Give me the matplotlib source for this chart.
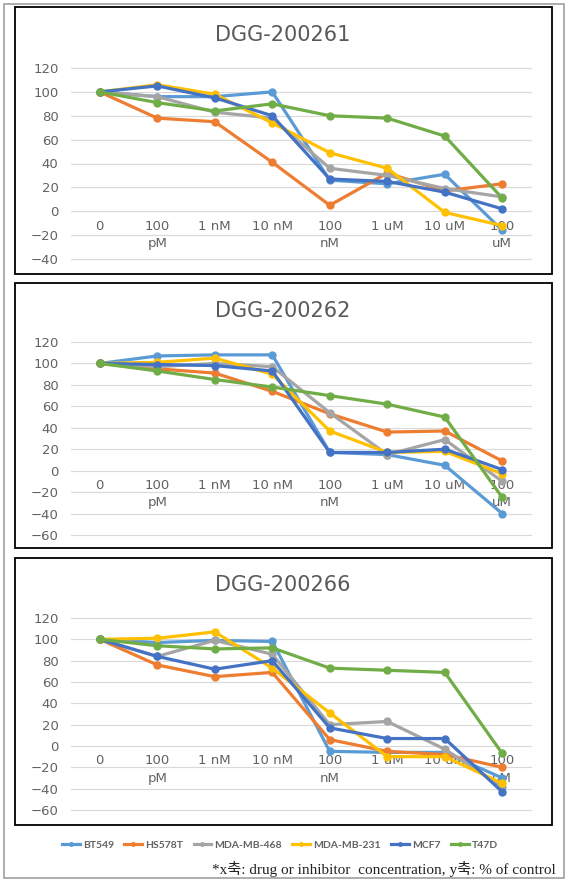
import matplotlib
matplotlib.use("Agg")
import matplotlib.pyplot as plt
from matplotlib.patches import Rectangle

plt.rcParams['font.family'] = ['DejaVu Sans']

concs = ["0", "100\npM", "1 nM", "10 nM", "100\nnM", "1 uM", "10 uM", "100\nuM"]
cell_lines = ["BT549", "HS578T", "MDA-MB-468", "MDA-MB-231", "MCF7", "T47D"]
colors = ["#5B9BD5", "#ED7D31", "#A5A5A5", "#FFC000", "#4472C4", "#70AD47"]

# DGG-200261
d261_bt549  = [100, 96, 96, 100, 26, 23, 31, -16]
d261_hs578t = [100, 78, 75, 41, 5, 32, 17, 23]
d261_mb468  = [100, 96, 83, 78, 36, 30, 19, 12]
d261_mb231  = [100, 106, 98, 74, 49, 36, -1, -12]
d261_mcf7   = [100, 105, 95, 80, 27, 25, 16, 2]
d261_t47d   = [100, 91, 84, 90, 80, 78, 63, 11]

# DGG-200262
d262_bt549  = [100, 107, 108, 108, 17, 15, 5, -40]
d262_hs578t = [100, 95, 91, 74, 53, 36, 37, 9]
d262_mb468  = [100, 97, 100, 97, 54, 15, 29, -10]
d262_mb231  = [100, 101, 105, 90, 37, 17, 18, -3]
d262_mcf7   = [100, 99, 98, 93, 17, 17, 20, 1]
d262_t47d   = [100, 93, 85, 78, 70, 62, 50, -25]

# DGG-200266
d266_bt549  = [100, 97, 99, 98, -5, -6, -6, -30]
d266_hs578t = [100, 76, 65, 69, 6, -5, -8, -20]
d266_mb468  = [100, 84, 99, 86, 20, 23, -3, -38]
d266_mb231  = [100, 101, 107, 73, 31, -10, -10, -35]
d266_mcf7   = [100, 84, 72, 80, 17, 7, 7, -43]
d266_t47d   = [100, 94, 91, 92, 73, 71, 69, -7]

panels = [
    ("DGG-200261", [d261_bt549, d261_hs578t, d261_mb468, d261_mb231, d261_mcf7, d261_t47d], (-40, 120)),
    ("DGG-200262", [d262_bt549, d262_hs578t, d262_mb468, d262_mb231, d262_mcf7, d262_t47d], (-60, 120)),
    ("DGG-200266", [d266_bt549, d266_hs578t, d266_mb468, d266_mb231, d266_mcf7, d266_t47d], (-60, 120)),
]

W, H = 572, 883
fig = plt.figure(figsize=(W / 100, H / 100), dpi=100)

def fx(px):
    return px / W

def fy(py):
    return 1 - py / H

# outer page frame
fig.patches.append(Rectangle((fx(4), fy(878)), fx(560), 874 / H, transform=fig.transFigure,
                             fill=False, edgecolor="#A0A0A0", linewidth=1.2))

# pixel layout: (box top, box bottom, plot top, plot bottom, title y)
layout = [(7, 274, 68, 259, 35), (283, 548, 342, 535, 311), (558, 825, 618, 810, 585)]
grey = "#626262"

handles = []
for (title, series, ylim), (bt, bb, pt, pb, ty) in zip(panels, layout):
    fig.patches.append(Rectangle((fx(15), fy(bb)), fx(537), (bb - bt) / H, transform=fig.transFigure,
                                 fill=False, edgecolor="black", linewidth=1.3))
    fig.text(fx(283), fy(ty), title, ha="center", va="center", fontsize=15, color="#595959")
    ax = fig.add_axes([fx(71), fy(pb), fx(460), (pb - pt) / H])
    x = list(range(len(concs)))
    handles = []
    for vals, name, c in zip(series, cell_lines, colors):
        h, = ax.plot(x, vals, color=c, lw=2.3, marker="o", ms=5, label=name)
        handles.append(h)
    ax.set_xlim(-0.5, 7.5)
    ax.set_ylim(*ylim)
    ax.set_yticks(range(ylim[0], ylim[1] + 1, 20))
    ax.grid(axis="y", color="#D9D9D9", lw=0.8)
    for gl in ax.get_ygridlines():
        gl.set_clip_on(False)
    ax.set_axisbelow(True)
    for s in ["top", "right", "left"]:
        ax.spines[s].set_visible(False)
    ax.spines["bottom"].set_position(("data", 0))
    ax.spines["bottom"].set_color("none")
    ax.set_xticks(x)
    ax.set_xticklabels(concs, linespacing=1.45)
    ax.tick_params(axis="x", length=0, pad=6, labelsize=9.5, labelcolor=grey)
    ax.tick_params(axis="y", length=0, pad=9, labelsize=9.5, labelcolor=grey)

fig.legend(handles=handles, labels=cell_lines, loc="center", ncol=6, bbox_to_anchor=(fx(280), fy(845)),
           frameon=False, handlelength=1.7, handletextpad=0.3, columnspacing=1.0,
           markerscale=0.5, labelcolor=grey, prop={"family": "Lato", "weight": "bold", "size": 7.5})

fig.text(fx(556), fy(869), "*x축: drug or inhibitor  concentration, y축: % of control",
         ha="right", va="center", fontsize=11, family=["Liberation Serif", "Noto Sans CJK KR"], color="#222222")

fig.savefig("out.png", dpi=100)
